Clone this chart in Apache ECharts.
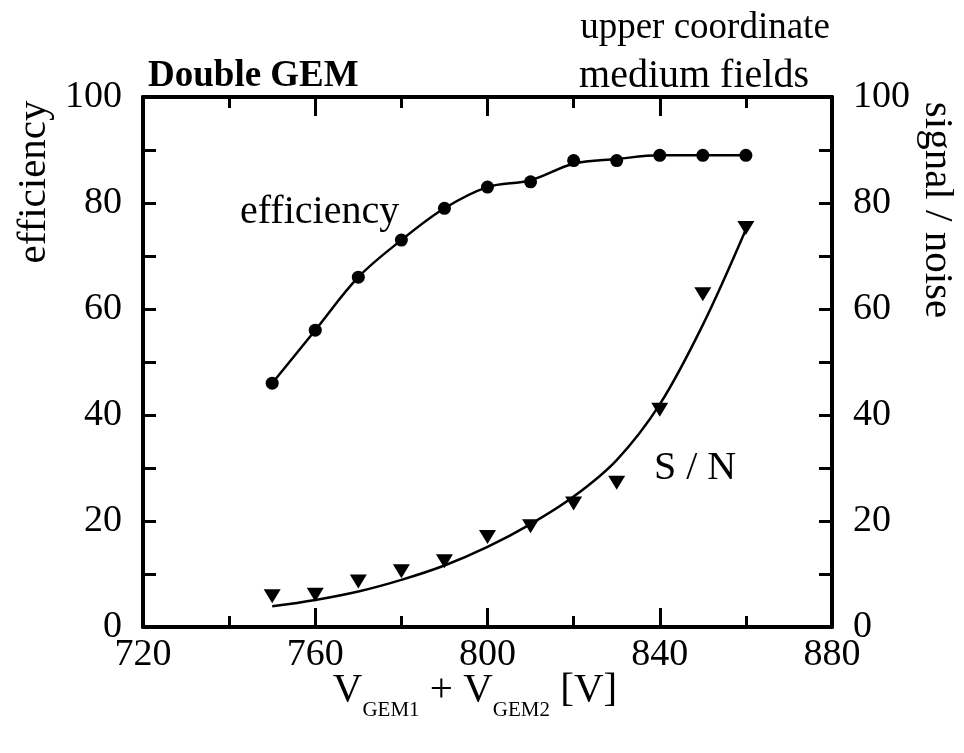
<!DOCTYPE html>
<html>
<head>
<meta charset="utf-8">
<script src="https://cdn.jsdelivr.net/npm/echarts@6/dist/echarts.min.js"></script>
<style>html,body{margin:0;padding:0;background:#fff}#c{width:964px;height:753px}</style>
</head>
<body>
<div id="c"></div>
<script>
// ---- data ----
var voltages = [750, 760, 770, 780, 790, 800, 810, 820, 830, 840, 850, 860];
var efficiency = [46, 56, 66, 73, 79, 83, 84, 88, 88, 89, 89, 89];
var efficiencyFit = [46, 56, 66, 73, 79, 83, 84.3, 87.4, 88.3, 89, 89, 89];
var signalNoise = [5.8, 6.1, 8.6, 10.5, 12.4, 17, 19, 23.3, 27.2, 41, 62.8, 75.3];
var signalNoiseFit = [3.9, 5.1, 6.7, 8.9, 11.6, 15.1, 19.4, 24.6, 31.5, 42, 57, 75];
var xTicks = [720, 760, 800, 840, 880];
var yTicks = [0, 20, 40, 60, 80, 100];

function pairs(xs, ys) { return xs.map(function (x, i) { return [x, ys[i]]; }); }

var FONT = 'Liberation Serif';
var black = '#000';

function xAx(pos, showLabel) {
  return {
    type: 'value', position: pos, min: xTicks[0], max: xTicks[xTicks.length - 1],
    interval: xTicks[1] - xTicks[0],
    axisLine: { show: true, onZero: false, lineStyle: { color: black, width: 4 } },
    axisTick: { show: true, inside: true, length: 19, lineStyle: { color: black, width: 3 } },
    minorTick: { show: true, splitNumber: 2, length: 11, lineStyle: { color: black, width: 3 } },
    splitLine: { show: false },
    axisLabel: { show: showLabel, color: black, fontFamily: FONT, fontSize: 38, margin: 9 }
  };
}
function yAx(pos, showLabel) {
  return {
    type: 'value', position: pos, min: yTicks[0], max: yTicks[yTicks.length - 1],
    interval: yTicks[1] - yTicks[0],
    axisLine: { show: true, onZero: false, lineStyle: { color: black, width: 4 } },
    axisTick: { show: true, inside: true, length: 13, lineStyle: { color: black, width: 3 } },
    minorTick: { show: true, splitNumber: 2, length: 13, lineStyle: { color: black, width: 3 } },
    splitLine: { show: false },
    axisLabel: { show: showLabel, color: black, fontFamily: FONT, fontSize: 38, margin: 21 }
  };
}

function txt(x, y, text, size, opts) {
  opts = opts || {};
  var align = opts.align || 'left';
  return { type: 'text', x: x, y: y, rotation: opts.rotation || 0,
    style: { text: text, font: (opts.bold ? 'bold ' : '') + size + 'px "Liberation Serif"', fill: black,
      align: align, verticalAlign: 'middle', textAlign: align, textVerticalAlign: 'middle' } };
}

var chart = echarts.init(document.getElementById('c'), null, { renderer: 'canvas' });
chart.setOption({
  backgroundColor: '#fff',
  animation: false,
  grid: { left: 143, right: 132, top: 97, bottom: 126, containLabel: false },
  xAxis: [xAx('bottom', true), xAx('top', false)],
  yAxis: [yAx('left', true), yAx('right', true)],
  series: [
    { name: 'efficiency fit', type: 'line', xAxisIndex: 0, yAxisIndex: 0, smooth: 0.35, showSymbol: false,
      lineStyle: { color: black, width: 2.5 }, data: pairs(voltages, efficiencyFit), z: 2 },
    { name: 'efficiency', type: 'scatter', xAxisIndex: 0, yAxisIndex: 0, symbol: 'circle', symbolSize: 13,
      itemStyle: { color: black, opacity: 1 }, data: pairs(voltages, efficiency), z: 3 },
    { name: 'S/N fit', type: 'line', xAxisIndex: 0, yAxisIndex: 1, smooth: 0.35, showSymbol: false,
      lineStyle: { color: black, width: 2.5 }, data: pairs(voltages, signalNoiseFit), z: 2 },
    { name: 'S/N', type: 'scatter', xAxisIndex: 0, yAxisIndex: 1, symbol: 'triangle', symbolRotate: 180,
      symbolSize: [17, 14], itemStyle: { color: black, opacity: 1 }, data: pairs(voltages, signalNoise), z: 3 }
  ],
  graphic: [
    txt(148, 76, 'Double GEM', 37, { bold: true }),
    txt(705, 28, 'upper coordinate', 37, { align: 'center' }),
    txt(694, 76, 'medium fields', 40, { align: 'center' }),
    txt(240, 212, 'efficiency', 40),
    txt(654, 468, 'S / N', 40),
    txt(34, 182, 'efficiency', 41, { align: 'center', rotation: Math.PI / 2 }),
    txt(937, 210, 'signal / noise', 41, { align: 'center', rotation: -Math.PI / 2 }),
    { type: 'text', x: 475, y: 690, style: {
      text: '{v|V}{s|GEM1}{v| + V}{s|GEM2}{v| [V]}',
      fill: black, align: 'center', verticalAlign: 'middle', textAlign: 'center', textVerticalAlign: 'middle',
      rich: {
        v: { fontFamily: FONT, fontSize: 41, fill: black, color: black },
        s: { fontFamily: FONT, fontSize: 21, fill: black, color: black, padding: [40, 0, 0, 0] }
      } } }
  ]
});
</script>
</body>
</html>
